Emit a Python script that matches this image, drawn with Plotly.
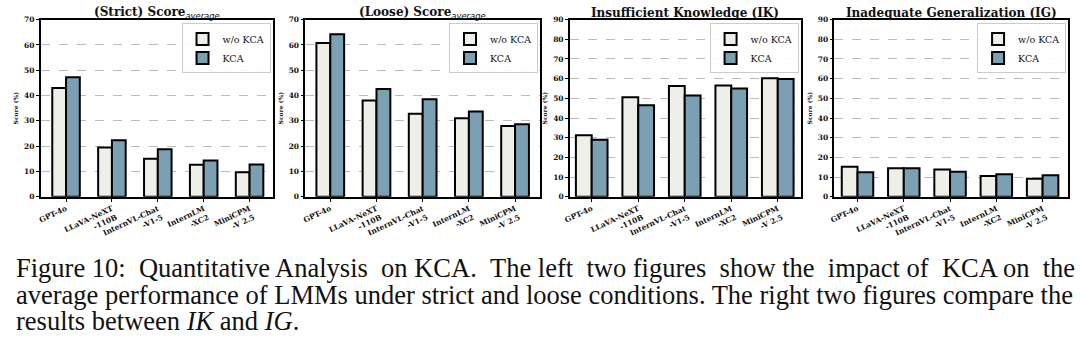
import plotly.graph_objects as go

models = ["GPT-4o", "LLaVA-NeXT<br>-110B", "InternVL-Chat<br>-V1-5", "InternLM<br>-XC2", "MiniCPM<br>-V 2.5"]
series_names = ["w/o KCA", "KCA"]

strict_wo = [43.0, 19.5, 15.0, 12.7, 9.7]
strict_kca = [47.2, 22.3, 18.8, 14.3, 12.8]
loose_wo = [60.7, 38.0, 32.8, 31.0, 28.0]
loose_kca = [64.2, 42.6, 38.5, 33.7, 28.7]
ik_wo = [31.2, 50.5, 56.3, 56.5, 60.2]
ik_kca = [29.0, 46.5, 51.5, 55.0, 59.8]
ig_wo = [15.3, 14.5, 13.8, 10.5, 9.2]
ig_kca = [12.5, 14.5, 12.7, 11.5, 11.0]

titles = [
    "<b>(Strict) Score</b><sub><span style='font-family:DejaVu Sans'><i>average</i></span></sub>",
    "<b>(Loose) Score</b><sub><span style='font-family:DejaVu Sans'><i>average</i></span></sub>",
    "<b>Insufficient Knowledge (IK)</b>",
    "<b>Inadequate Generalization (IG)</b>",
]
y_max = [70, 70, 90, 90]
data = [(strict_wo, strict_kca), (loose_wo, loose_kca), (ik_wo, ik_kca), (ig_wo, ig_kca)]

NB = "\u00a0"
caption_lines = [
    "Figure 10: Quantitative Analysis on KCA. The left two figures show the impact of KCA on the",
    "average performance of LMMs under strict and loose conditions. The right two figures compare the",
    "results between <i>IK</i> and <i>IG</i>.",
]


def justify(line, extra):
    words = line.split(" ")
    out = words[0]
    gaps = len(words) - 1
    for j, w in enumerate(words[1:]):
        add = NB if (j * extra) // gaps != ((j + 1) * extra) // gaps else ""
        out += " " + add + w
    return out


caption_display = [justify(caption_lines[0], 8), caption_lines[1], caption_lines[2]]

W, H = 1080, 342
px_lr = [(35, 268), (301, 537), (567, 799), (833, 1068)]
top_px, bot_px = 16, 198
bar_w = [0.3, 0.3, 0.34, 0.34]
xr = [(-0.55, 4.5), (-0.54, 4.54), (-0.47, 4.49), (-0.5, 4.55)]

colors = ["#efefe9", "#7b9fb3"]
fig = go.Figure()
tickfont = dict(family="DejaVu Serif", size=7.5, color="#111")

for i in range(4):
    xa = "x" if i == 0 else f"x{i+1}"
    ya = "y" if i == 0 else f"y{i+1}"
    lg = "legend" if i == 0 else f"legend{i+1}"
    for s in range(2):
        vals = data[i][s]
        fig.add_trace(go.Bar(
            x=models, y=vals, name=series_names[s], xaxis=xa, yaxis=ya,
            width=bar_w[i], offset=(-bar_w[i] if s == 0 else 0),
            marker=dict(color=colors[s], line=dict(color="black", width=2)),
            legend=lg, showlegend=True,
        ))
    l, r = px_lr[i]
    dom_x = [l / W, r / W]
    dom_y = [1 - bot_px / H, 1 - top_px / H]
    xkey = "xaxis" if i == 0 else f"xaxis{i+1}"
    ykey = "yaxis" if i == 0 else f"yaxis{i+1}"
    yt = list(range(0, y_max[i] + 1, 10))
    fig.layout[xkey] = dict(
        domain=dom_x, anchor=ya, type="category", range=list(xr[i]),
        tickvals=models, ticktext=[f"<b>{m}</b>" for m in models],
        tickangle=-25, tickfont=tickfont, showline=True, linecolor="black",
        linewidth=1.5, mirror=True, ticks="outside", ticklen=3, tickcolor="black",
        showgrid=False, fixedrange=True,
    )
    fig.layout[ykey] = dict(
        domain=dom_y, anchor=xa, range=[0, y_max[i]],
        tickvals=yt, ticktext=[f"<b>{v}</b>" for v in yt],
        tickfont=tickfont, showline=True, linecolor="black", linewidth=1.5,
        mirror=True, ticks="outside", ticklen=3, tickcolor="black",
        showgrid=True, gridcolor="#bbbbbb", griddash="dash", gridwidth=1,
        zeroline=False,
        title=dict(text="<b>Score (%)</b>", font=dict(family="DejaVu Serif", size=6, color="#111"), standoff=5),
    )
    lgkey = "legend" if i == 0 else f"legend{i+1}"
    fig.layout[lgkey] = dict(
        x=(r - 2) / W, y=1 - 20 / H, xanchor="right", yanchor="top",
        bgcolor="rgba(255,255,255,0.9)", bordercolor="#cccccc", borderwidth=1,
        font=dict(family="DejaVu Serif", size=9.5, color="#111"),
        tracegroupgap=0, itemwidth=30,
    )
    fig.add_annotation(
        text=titles[i], x=(l + r) / 2 / W, y=1 - 9 / H, xref="paper", yref="paper",
        showarrow=False, xanchor="center", yanchor="middle",
        font=dict(family="DejaVu Serif", size=12, color="#111"),
    )

for k, line in enumerate(caption_display):
    fig.add_annotation(
        text=line, x=8 / W, y=1 - (271 + 27.5 * k) / H, xref="paper", yref="paper",
        showarrow=False, xanchor="left", yanchor="middle",
        font=dict(family="Liberation Serif", size=26.5, color="#111"),
    )

fig.update_layout(
    width=W, height=H, margin=dict(l=0, r=0, t=0, b=0),
    paper_bgcolor="white", plot_bgcolor="white", barmode="overlay",
)
fig.write_html("out.html")
